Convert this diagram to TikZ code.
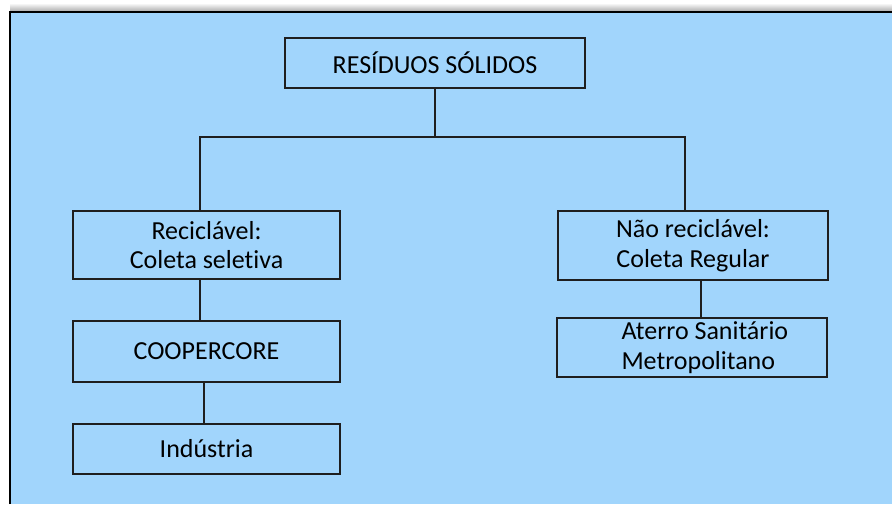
\documentclass[tikz,border=0pt]{standalone}
\usepackage{fontspec}
\setmainfont[Ligatures=NoCommon]{Carlito}

\definecolor{skyback}{HTML}{A1D5FC}
\definecolor{boxline}{HTML}{1E1E1E}

\tikzset{
  box/.style={draw=boxline, line width=1.4pt, inner sep=0pt, align=center,
    font=\fontsize{26}{29.5}\selectfont},
  boxtext/.style={inner sep=0pt, align=left, font=\fontsize{26}{29.5}\selectfont},
  link/.style={draw=boxline, line width=1.4pt},
}

\begin{document}
\begin{tikzpicture}[x=1pt,y=-1pt]
    % page and frame
    \useasboundingbox (0,0) rectangle (892,504);
    \fill [white] (0,0) rectangle (892,504);
    \shade [top color=white, bottom color=gray!70] (10,3) rectangle (892,12);
    \fill [skyback] (10,12) rectangle (892,504);
    \draw [line width=2pt] (10,504) -- (10,12) -- (892,12);
    % top
    \node [box, minimum width=300pt, minimum height=50pt] (root) at (435,63) {RESÍDUOS SÓLIDOS};
    % left branch
    \node [box, minimum width=267pt, minimum height=68pt] (recic) at (206.5,245) {Reciclável:\\Coleta seletiva};
    \node [box, minimum width=267pt, minimum height=61pt] (coop) at (206.5,351.5) {COOPERCORE};
    \node [box, minimum width=267pt, minimum height=50pt] (indus) at (206.5,449) {Indústria};
    % right branch
    \node [box, minimum width=270pt, minimum height=69pt] (nrec) at (693,245.5) {Não reciclável:\\Coleta Regular};
    \node [box, minimum width=270pt, minimum height=59pt] (aterro) at (692,347.5) {};
    \node [boxtext, anchor=west, xshift=65pt] (aterrotxt) at (aterro.west) {Aterro Sanitário\\Metropolitano};
    % connectors
    \coordinate (lft) at (200,137);
    \coordinate (rgt) at (685,137);
    \coordinate (lowl) at (204,0);
    \coordinate (lowr) at (701,0);
    \draw [link] (root.south) -- (root.south |- lft);
    \draw [link] (recic.north -| lft) -- (lft) -- (rgt) -- (nrec.north -| rgt);
    \draw [link] (recic.south -| lft) -- (coop.north -| lft);
    \draw [link] (coop.south -| lowl) -- (indus.north -| lowl);
    \draw [link] (nrec.south -| lowr) -- (aterro.north -| lowr);
\end{tikzpicture}
\end{document}
